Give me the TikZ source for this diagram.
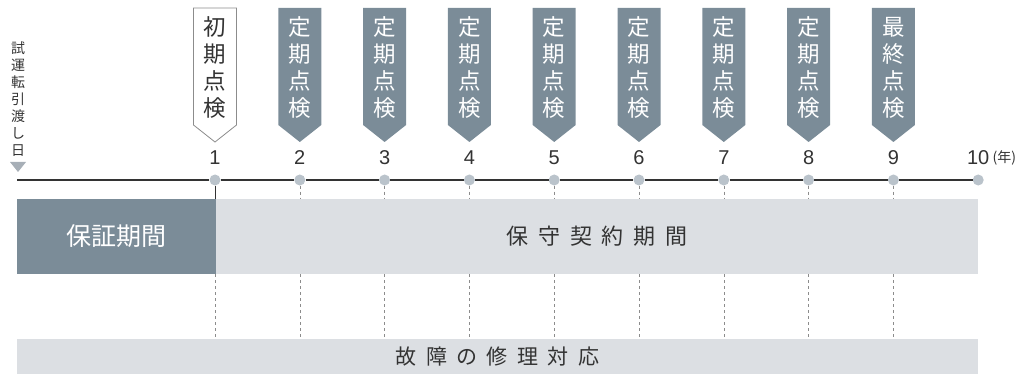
\documentclass[tikz,border=0pt]{standalone}
\usepackage{fontspec}
\setmainfont{Noto Sans CJK JP}
\newfontfamily\numfont{Liberation Sans}
\usetikzlibrary{positioning}
\definecolor{slateGrey}{HTML}{7B8C98}
\definecolor{paleGrey}{HTML}{DCDFE3}
\definecolor{dotGrey}{HTML}{BAC3CB}
\definecolor{textDark}{HTML}{333333}
\newcommand{\gap}{\hspace{0.45em}}

\begin{document}
\begin{tikzpicture}[x=1pt,y=-1pt,
  dot/.style={circle,fill=dotGrey,minimum size=11pt,inner sep=0pt},
  year/.style={font=\numfont\fontsize{20}{20}\selectfont,text=textDark,inner sep=0pt},
  tag/.style={align=center,inner sep=0pt,font=\fontsize{22.5}{27}\selectfont},
  band/.style={inner sep=0pt,minimum height=75pt},
  guide/.style={black!45,dash pattern=on 3pt off 3pt,line width=0.6pt}]
\useasboundingbox (0,0) rectangle (1024,374);
% --- bands ---
  \node[band,fill=slateGrey,minimum width=199pt,text=white,
        font=\fontsize{25}{25}\selectfont] (warranty) at (116.5,236.5) {保証期間};
  \node[band,fill=paleGrey,minimum width=762pt,text=textDark,
        font=\fontsize{22}{22}\selectfont] (contract) at (597,236.5)
        {保\gap{}守\gap{}契\gap{}約\gap{}期\gap{}間};
  \node[band,fill=paleGrey,minimum width=961pt,minimum height=35pt,text=textDark,
        font=\fontsize{21}{21}\selectfont] (repair) at (497.5,356.5)
        {故\gap{}障\gap{}の\gap{}修\gap{}理\gap{}対\gap{}応};
% --- time axis ---
  \foreach \i in {1,...,10}{
    \node[dot] (d\i) at ({215+(\i-1)*84.8},180) {};
    \node[year] (n\i) at ({215+(\i-1)*84.8},158) {\i};
  }
  \node[inner sep=0pt,text=textDark,font=\fontsize{14}{14}\selectfont,
        right=3pt of n10] (unit) {(年)};
  \coordinate (start) at (17,180);
  \draw[textDark,line width=1.4pt] (start) -- (d1);
  \foreach \i [evaluate=\i as \j using int(\i+1)] in {1,...,9}
    \draw[textDark,line width=1.4pt] (d\i) -- (d\j);
% --- handover mark ---
  \node[align=center,inner sep=0pt,text=textDark,
        font=\fontsize{14}{17}\selectfont] (handover) at (18,99)
        {試\\運\\転\\引\\渡\\し\\日};
  \fill[dotGrey!90!black] (10,162) -- (26,162) -- (18,172) -- cycle;
% --- inspection tags ---
  \filldraw[fill=white,draw=black!45,line width=0.8pt]
    (193.5,8) -- (236.5,8) -- (236.5,125) -- (215,142) -- (193.5,125) -- cycle;
  \node[tag,text=textDark] (m1) at (215,68) {初\\期\\点\\検};
  \foreach \i in {2,...,9}{
    \fill[slateGrey] ({215+(\i-1)*84.8-21.5},8) -- ++(43,0) -- ++(0,117)
      -- ++(-21.5,17) -- ++(-21.5,-17) -- cycle;
  }
  \foreach \i in {2,...,8}
    \node[tag,text=white] (m\i) at ({215+(\i-1)*84.8},68) {定\\期\\点\\検};
  \node[tag,text=white] (m9) at ({215+8*84.8},68) {最\\終\\点\\検};
% --- guides ---
  \draw[textDark,line width=1pt] (d1) -- (d1 |- warranty.north);
  \foreach \i in {2,...,9}
    \draw[guide] (d\i) -- (d\i |- contract.north);
  \foreach \i in {1,...,9}
    \draw[guide] (d\i |- contract.south) -- (d\i |- repair.north);
\end{tikzpicture}
\end{document}
